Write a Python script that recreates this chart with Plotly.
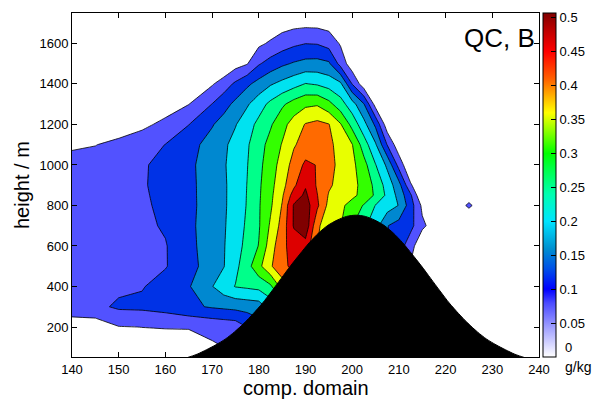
import plotly.graph_objects as go

# ---------------- data ----------------
x_grid = [140, 145, 150, 155, 160, 165, 170, 172.5, 175, 177.5, 180, 182.5, 185, 187.5, 190,
          192.5, 195, 197.5, 200, 202.5, 205, 207.5, 210, 212.5, 215, 220, 225, 230, 235, 240]
h_grid = [0, 100, 200, 300, 400, 500, 600, 700, 800, 850, 900, 1000, 1100, 1200, 1300, 1400,
          1500, 1600, 1700, 1800]

# QC [g/kg] along each height row (columns = x_grid)
qc_h0000 = [0, 0, 0.02, 0.025, 0.03, 0.035, 0.045, 0.05, 0.06, 0.07, 0.09, 0.12, 0.15, 0.2, 0.24, 0.25, 0.24, 0.22, 0.2, 0.17, 0.14, 0.1, 0.08, 0.05, 0.03, 0.01, 0, 0, 0, 0]
qc_h0100 = [0, 0, 0.02, 0.025, 0.03, 0.035, 0.045, 0.05, 0.06, 0.07, 0.09, 0.12, 0.15, 0.2, 0.24, 0.25, 0.24, 0.22, 0.2, 0.17, 0.14, 0.1, 0.08, 0.05, 0.03, 0.01, 0, 0, 0, 0]
qc_h0200 = [0.02, 0.02, 0.048, 0.0505, 0.052, 0.052, 0.06, 0.065, 0.07, 0.1, 0.13, 0.17, 0.22, 0.26, 0.3, 0.3, 0.28, 0.25, 0.22, 0.19, 0.16, 0.12, 0.09, 0.06, 0.03, 0.01, 0, 0, 0, 0]
qc_h0300 = [0.08, 0.088, 0.108, 0.11, 0.12, 0.14, 0.155, 0.16, 0.165, 0.17, 0.175, 0.22, 0.26, 0.3, 0.33, 0.33, 0.31, 0.28, 0.25, 0.21, 0.17, 0.13, 0.1, 0.07, 0.04, 0.01, 0, 0, 0, 0]
qc_h0400 = [0.075, 0.085, 0.09, 0.097, 0.119, 0.146, 0.198, 0.229, 0.252, 0.258, 0.265, 0.29, 0.37, 0.42, 0.44, 0.4, 0.34, 0.3, 0.26, 0.22, 0.18, 0.14, 0.11, 0.07, 0.03, 0, 0, 0, 0, 0]
qc_h0500 = [0.072, 0.08, 0.086, 0.09, 0.097, 0.132, 0.175, 0.198, 0.237, 0.281, 0.336, 0.393, 0.44, 0.46, 0.46, 0.4, 0.352, 0.32, 0.27, 0.23, 0.19, 0.15, 0.12, 0.045, 0, 0, 0, 0, 0, 0]
qc_h0600 = [0.07, 0.078, 0.085, 0.087, 0.097, 0.136, 0.177, 0.197, 0.229, 0.265, 0.302, 0.375, 0.438, 0.47, 0.48, 0.4, 0.36, 0.33, 0.28, 0.24, 0.2, 0.152, 0.125, 0.07, 0.01, 0, 0, 0, 0, 0]
qc_h0700 = [0.068, 0.077, 0.084, 0.09, 0.105, 0.139, 0.176, 0.195, 0.224, 0.258, 0.295, 0.357, 0.418, 0.505, 0.535, 0.41, 0.37, 0.352, 0.302, 0.26, 0.22, 0.152, 0.13, 0.115, 0.06, 0, 0, 0, 0, 0]
qc_h0800 = [0.065, 0.075, 0.083, 0.092, 0.111, 0.138, 0.173, 0.193, 0.221, 0.253, 0.295, 0.342, 0.403, 0.505, 0.525, 0.46, 0.385, 0.361, 0.331, 0.296, 0.248, 0.225, 0.198, 0.123, 0.04, 0, 0.058, 0, 0, 0]
qc_h0850 = [0.0625, 0.0725, 0.0825, 0.0935, 0.1135, 0.1385, 0.173, 0.193, 0.2205, 0.252, 0.2935, 0.338, 0.393, 0.4725, 0.51, 0.452, 0.396, 0.379, 0.361, 0.334, 0.292, 0.239, 0.184, 0.108, 0, 0, 0.03, 0, 0, 0]
qc_h0900 = [0.06, 0.07, 0.082, 0.095, 0.116, 0.139, 0.1725, 0.193, 0.22, 0.251, 0.292, 0.334, 0.383, 0.44, 0.495, 0.444, 0.407, 0.384, 0.364, 0.335, 0.286, 0.23, 0.168, 0.057, 0, 0, 0, 0, 0, 0]
qc_h1000 = [0.055, 0.065, 0.078, 0.093, 0.118, 0.14, 0.174, 0.195, 0.221, 0.248, 0.287, 0.327, 0.369, 0.419, 0.46, 0.448, 0.414, 0.388, 0.363, 0.318, 0.252, 0.19, 0.082, 0, 0, 0, 0, 0, 0, 0]
qc_h1100 = [0.048, 0.049, 0.06, 0.075, 0.101, 0.132, 0.17, 0.191, 0.217, 0.244, 0.28, 0.317, 0.353, 0.395, 0.42, 0.43, 0.41, 0.384, 0.352, 0.275, 0.206, 0.098, 0.017, 0, 0, 0, 0, 0, 0, 0]
qc_h1200 = [0.02, 0.02, 0.028, 0.04, 0.061, 0.099, 0.146, 0.171, 0.197, 0.23, 0.2625, 0.294, 0.333, 0.371, 0.403, 0.413, 0.402, 0.354, 0.283, 0.217, 0.14, 0.02, 0, 0, 0, 0, 0, 0, 0, 0]
qc_h1300 = [0, 0, 0.005, 0.012, 0.028, 0.049, 0.101, 0.131, 0.1625, 0.194, 0.229, 0.262, 0.292, 0.32, 0.34, 0.345, 0.315, 0.271, 0.221, 0.153, 0.03, 0, 0, 0, 0, 0, 0, 0, 0, 0]
qc_h1400 = [0, 0, 0, 0, 0, 0, 0.045, 0.075, 0.109, 0.14, 0.168, 0.195, 0.214, 0.232, 0.252, 0.245, 0.23, 0.21, 0.098, 0.02, 0, 0, 0, 0, 0, 0, 0, 0, 0, 0]
qc_h1500 = [0, 0, 0, 0, 0, 0, 0, 0, 0.03, 0.047, 0.095, 0.12, 0.141, 0.155, 0.165, 0.167, 0.158, 0.082, 0.02, 0, 0, 0, 0, 0, 0, 0, 0, 0, 0, 0]
qc_h1600 = [0, 0, 0, 0, 0, 0, 0, 0, 0, 0.025, 0.04, 0.057, 0.075, 0.09, 0.099, 0.097, 0.08, 0.045, 0.01, 0, 0, 0, 0, 0, 0, 0, 0, 0, 0, 0]
qc_h1700 = [0, 0, 0, 0, 0, 0, 0, 0, 0, 0, 0, 0.015, 0.028, 0.034, 0.036, 0.035, 0.03, 0.01, 0, 0, 0, 0, 0, 0, 0, 0, 0, 0, 0, 0]
qc_h1800 = [0] * 30

# terrain (black hill), read along the slope every 2 units
terrain_x = [160.8, 162.8, 164.8, 166.8, 168.8, 170.8, 172.8, 174.8, 176.8, 178.8, 180.8, 182.8, 184.8,
             186.8, 188.8, 190.8, 192.8, 194.8, 196.8, 198.8, 200.8, 202.8, 204.8, 206.8, 208.8, 210.8,
             212.8, 214.8, 216.8, 218.8, 220.8, 222.8, 224.8, 226.8, 228.8, 230.8, 232.8, 234.8, 236.8,
             238.8, 240.8]
terrain_h = [28, 38, 50, 66, 88, 112, 140, 176, 218, 266, 318, 378, 440, 502, 560, 616, 664, 702, 728,
             746, 752, 746, 728, 702, 664, 616, 560, 502, 440, 378, 318, 266, 218, 176, 140, 112, 88, 66,
             50, 38, 28]

contour_levels = dict(start=0.05, end=0.5, size=0.05)
band_colors = ["#ffffff", "#5252ff", "#0032e6", "#0088d0", "#00e2f0", "#00ff8a",
               "#33ff00", "#e8ff00", "#ff6a00", "#dd0000", "#800000"]
cbar_stops = [0.0, 0.04, 0.08, 0.1, 0.13, 0.16, 0.2, 0.24, 0.28, 0.3, 0.33, 0.36, 0.39, 0.41, 0.45, 0.48, 0.507]
cbar_colors = ["#ffffff", "#a8a8ff", "#4a4aff", "#0000ff", "#0050e8", "#0090d0", "#00e4ff", "#00ffb0",
               "#00ff40", "#00ff00", "#80ff00", "#ffff00", "#ffa000", "#ff6000", "#ff0000", "#c00000", "#800000"]
cbar_ticks = [0, 0.05, 0.1, 0.15, 0.2, 0.25, 0.3, 0.35, 0.4, 0.45, 0.5]
cbar_ticktext = ["", "0.05", "0.1", "0.15", "0.2", "0.25", "0.3", "0.35", "0.4", "0.45", "0.5"]
cbar_max = 0.507

# ---------------- figure ----------------
z = [qc_h0000, qc_h0100, qc_h0200, qc_h0300, qc_h0400, qc_h0500, qc_h0600, qc_h0700, qc_h0800,
     qc_h0850, qc_h0900, qc_h1000, qc_h1100, qc_h1200, qc_h1300, qc_h1400, qc_h1500, qc_h1600,
     qc_h1700, qc_h1800]

n = len(band_colors)
fill_scale = [[i / (n - 1), c] for i, c in enumerate(band_colors)]
cb_scale = [[s / cbar_max, c] for s, c in zip(cbar_stops, cbar_colors)]

FONT = "Liberation Sans, Arial, Helvetica, sans-serif"

fig = go.Figure()
fig.add_trace(go.Contour(
    x=x_grid, y=h_grid, z=z,
    contours=dict(start=contour_levels["start"], end=contour_levels["end"], size=contour_levels["size"],
                  coloring="fill", showlines=True),
    line=dict(color="black", width=0.8, smoothing=0),
    colorscale=fill_scale, showscale=False, hoverinfo="skip",
))
fig.add_trace(go.Scatter(
    x=terrain_x, y=terrain_h, mode="lines", fill="tozeroy",
    line=dict(color="black", width=1, shape="spline", smoothing=0.8),
    fillcolor="black", hoverinfo="skip", showlegend=False,
))
fig.add_trace(go.Scatter(
    x=[150], y=[-1000], mode="markers", showlegend=False, hoverinfo="skip",
    marker=dict(color=[0], cmin=0, cmax=cbar_max, colorscale=cb_scale, showscale=True, size=1,
                colorbar=dict(x=1.0086, xanchor="left", xpad=0, y=0.5, yanchor="middle", ypad=0,
                              len=1, lenmode="fraction", thickness=13, thicknessmode="pixels",
                              outlinecolor="black", outlinewidth=1,
                              tickmode="array", tickvals=cbar_ticks, ticktext=cbar_ticktext,
                              ticks="inside", ticklen=5, tickcolor="black",
                              tickfont=dict(family=FONT, size=13, color="black"))),
))

axis_common = dict(showline=True, linecolor="black", linewidth=1, mirror="ticks", ticks="inside",
                   ticklen=5, tickcolor="black", showgrid=False, zeroline=False,
                   tickfont=dict(family=FONT, size=13, color="black"))
fig.update_xaxes(range=[140, 240], tickmode="array", tickvals=list(range(140, 241, 10)), **axis_common)
fig.update_yaxes(range=[52, 1750], tickmode="array", tickvals=list(range(200, 1601, 200)), **axis_common)

fig.update_layout(
    width=595, height=400, margin=dict(l=72, r=56, t=13, b=43, autoexpand=False),
    paper_bgcolor="white", plot_bgcolor="white", showlegend=False,
    font=dict(family=FONT, color="black"),
    annotations=[
        dict(text="QC, B", xref="paper", yref="paper", x=0.995, y=0.927, xanchor="right",
             yanchor="middle", showarrow=False, font=dict(family=FONT, size=26, color="black")),
        dict(text="comp. domain", xref="paper", yref="paper", x=0.5, y=-0.09, xanchor="center",
             yanchor="middle", showarrow=False, font=dict(family=FONT, size=20, color="black")),
        dict(text="height / m", xref="paper", yref="paper", x=-0.107, y=0.5, xanchor="center",
             yanchor="middle", textangle=-90, showarrow=False,
             font=dict(family=FONT, size=20, color="black")),
        dict(text="0", xref="paper", yref="paper", x=1.0514, y=0.029, xanchor="left",
             yanchor="middle", showarrow=False, font=dict(family=FONT, size=13, color="black")),
        dict(text="g/kg", xref="paper", yref="paper", x=1.0835, y=-0.028, xanchor="center",
             yanchor="middle", showarrow=False, font=dict(family=FONT, size=14, color="black")),
    ],
)

fig.write_html("out.html")
